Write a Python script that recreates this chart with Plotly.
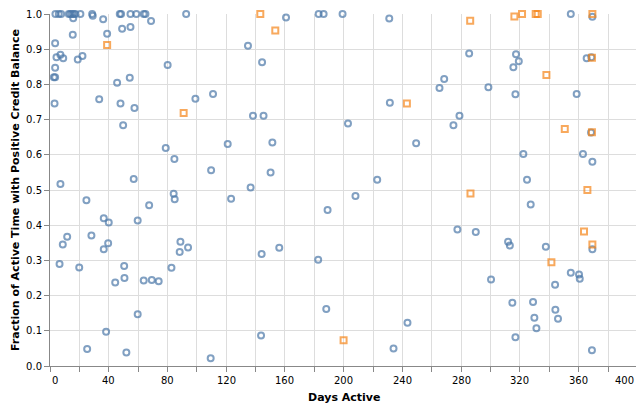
import plotly.graph_objects as go

# Blue circles: (days active, fraction of active time with positive balance)
blue_days = [3.7, 6.0, 7.6, 12.8, 13.9, 15.1, 16.2, 17.3, 15.8, 20.7, 28.7, 29.1, 36.2, 47.5, 48.4,
             49.1, 54.8, 54.8, 58.8, 63.8, 65.0, 68.8, 92.7, 3.5, 15.5, 38.9, 4.4, 7.1, 9.0, 18.9,
             22.1, 3.5, 80.1, 2.6, 3.5, 45.7, 54.3, 3.1, 33.5, 48.0, 57.5, 99.0, 111.0, 49.8,
             160.7, 182.9, 186.3, 199.2, 231.0, 134.8, 144.4, 231.4, 138.2, 145.4, 202.9,
             354.6, 369.3, 285.4, 317.3, 319.2, 315.5, 365.4, 368.6, 268.4, 265.2, 298.5, 316.9,
             358.6, 278.8, 274.7,
             78.8, 84.7, 121.0, 109.7, 7.1, 57.0, 24.8, 84.2, 84.9, 123.3, 67.5, 36.6, 40.0, 59.7,
             11.7, 8.7, 28.2, 39.6, 36.6, 88.8, 94.0, 88.3,
             151.4, 249.3, 150.2, 136.6, 222.8, 208.0, 189.0, 156.1,
             368.4, 322.3, 362.9, 369.3, 324.8, 327.3, 277.4, 289.9, 311.9, 313.1, 337.6, 369.3,
             6.5, 19.9, 50.5, 50.7, 44.4, 63.8, 69.3, 74.0, 82.7, 59.7, 38.2, 25.3, 52.0, 109.4,
             144.1, 182.6, 188.1, 243.4, 143.7, 233.9,
             354.6, 360.2, 360.7, 300.3, 343.9, 314.8, 328.9, 344.1, 329.8, 345.9, 331.2, 316.9, 369.0]
blue_frac = [1.0, 1.0, 1.0, 1.0, 1.0, 1.0, 1.0, 1.0, 0.988, 1.0, 1.0, 0.995, 0.985, 1.0, 1.0,
             0.958, 1.0, 0.963, 1.0, 1.0, 1.0, 0.98, 1.0, 0.917, 0.941, 0.944, 0.877, 0.884, 0.874, 0.871,
             0.881, 0.847, 0.855, 0.82, 0.82, 0.805, 0.819, 0.746, 0.758, 0.746, 0.733, 0.759, 0.773, 0.684,
             0.99, 1.0, 1.0, 1.0, 0.987, 0.91, 0.863, 0.748, 0.711, 0.711, 0.689,
             1.0, 0.992, 0.888, 0.886, 0.866, 0.849, 0.874, 0.877, 0.815, 0.79, 0.792, 0.772,
             0.773, 0.711, 0.684,
             0.619, 0.588, 0.631, 0.556, 0.517, 0.531, 0.471, 0.489, 0.474, 0.475, 0.457, 0.42, 0.408, 0.413,
             0.367, 0.345, 0.371, 0.349, 0.332, 0.353, 0.337, 0.324,
             0.635, 0.633, 0.55, 0.507, 0.529, 0.483, 0.443, 0.336,
             0.663, 0.602, 0.602, 0.58, 0.529, 0.459, 0.388, 0.381, 0.353, 0.342, 0.339, 0.332,
             0.29, 0.28, 0.284, 0.25, 0.237, 0.243, 0.244, 0.241, 0.279, 0.147, 0.097, 0.048, 0.038, 0.022,
             0.318, 0.302, 0.162, 0.123, 0.087, 0.05,
             0.265, 0.26, 0.248, 0.246, 0.231, 0.18, 0.182, 0.16, 0.137, 0.134, 0.107, 0.082, 0.045]

# Orange squares
orange_days = [38.9, 91.0, 143.2, 153.4, 243.0, 286.1, 316.2, 321.4, 330.7, 332.1, 369.3, 369.0,
               338.0, 350.5, 369.0, 286.3, 365.9, 363.6, 369.3, 341.4, 199.9]
orange_frac = [0.912, 0.719, 1.0, 0.953, 0.746, 0.981, 0.993, 1.0, 1.0, 1.0, 1.0, 0.876,
               0.827, 0.673, 0.664, 0.49, 0.5, 0.382, 0.345, 0.295, 0.073]

x_ticks = list(range(0, 401, 20))
x_labels = [str(v) for v in range(0, 401, 40)]
y_ticks = [i / 10 for i in range(11)]

FONT = "DejaVu Sans, sans-serif"

fig = go.Figure()
fig.add_trace(go.Scatter(
    x=blue_days, y=blue_frac, mode="markers", cliponaxis=False, showlegend=False,
    marker=dict(symbol="circle-open", size=6, color="#4c78a8", opacity=0.7,
                line=dict(width=2, color="#4c78a8")),
))
fig.add_trace(go.Scatter(
    x=orange_days, y=orange_frac, mode="markers", cliponaxis=False, showlegend=False,
    marker=dict(symbol="square-open", size=6, color="#f58518", opacity=0.7,
                line=dict(width=2, color="#f58518")),
))

annotations = []
for lab in x_labels:
    v = int(lab)
    anchor = "left" if v == 0 else ("right" if v == 400 else "center")
    xpos = v if v < 400 else 399
    annotations.append(dict(x=xpos, y=0, xref="x", yref="paper", text=lab, showarrow=False,
                            xanchor=anchor, yanchor="top", yshift=-7,
                            font=dict(family=FONT, size=10, color="#000")))
annotations.append(dict(x=200, y=0, xref="x", yref="paper", text="<b>Days Active</b>",
                        showarrow=False, xanchor="center", yanchor="middle", yshift=-31,
                        font=dict(family=FONT, size=11, color="#000")))
annotations.append(dict(x=0, y=0.5, xref="paper", yref="paper",
                        text="<b>Fraction of Active Time with Positive Credit Balance</b>",
                        showarrow=False, textangle=-90, xanchor="center", yanchor="middle",
                        xshift=-35, font=dict(family=FONT, size=11, color="#000")))

fig.update_layout(
    width=636, height=404,
    margin=dict(l=50, r=0, t=14, b=38),
    paper_bgcolor="white", plot_bgcolor="white",
    font=dict(family=FONT, size=10, color="#000"),
    annotations=annotations,
    hovermode=False,
    xaxis=dict(range=[0, 399], tickvals=x_ticks, showticklabels=False, automargin=False,
               showgrid=True, gridcolor="#ddd", gridwidth=1, zeroline=False,
               showline=True, linecolor="#888", linewidth=1,
               ticks="outside", ticklen=5, tickcolor="#888", tickwidth=1),
    yaxis=dict(range=[0, 1], tickvals=y_ticks, tickformat=".1f", automargin=False,
               showgrid=True, gridcolor="#ddd", gridwidth=1, zeroline=False,
               showline=True, linecolor="#888", linewidth=1,
               ticks="outside", ticklen=5, tickcolor="#888", tickwidth=1,
               tickfont=dict(family=FONT, size=10, color="#000")),
)

fig.write_html("out.html", config={"displayModeBar": False, "staticPlot": True},
               post_script="document.body.style.margin='0';document.body.style.overflow='hidden';")
